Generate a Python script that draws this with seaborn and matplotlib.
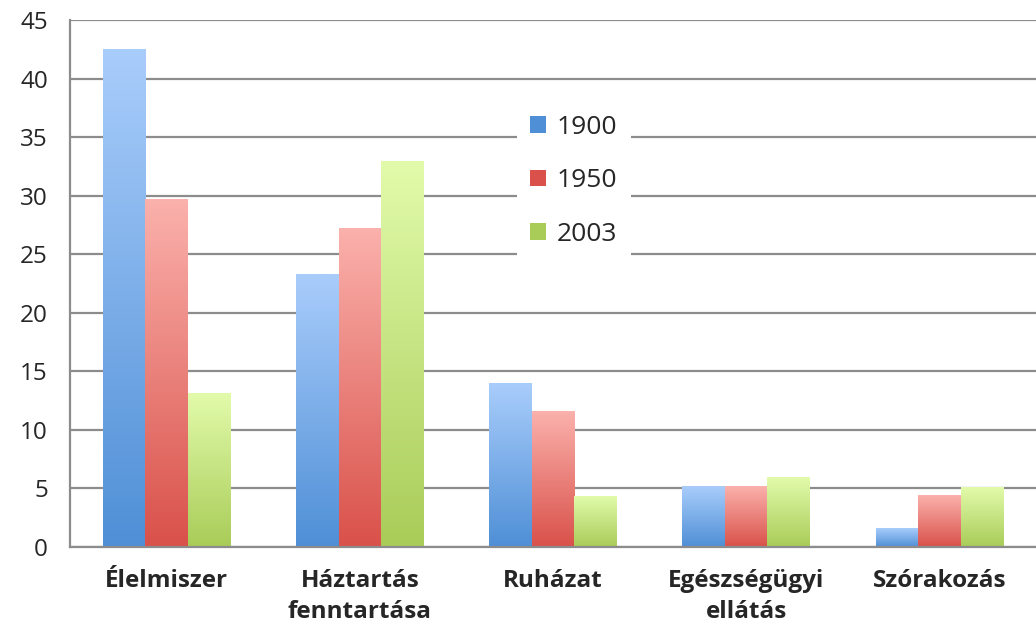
"""
Household spending shares by category, 1900 / 1950 / 2003.
"""

import numpy as np
import pandas as pd
import matplotlib
matplotlib.use("Agg")
import matplotlib.pyplot as plt
import matplotlib.colors as mcolors
from matplotlib.patches import Patch
import seaborn as sns

categories = ["Élelmiszer", "Háztartás\nfenntartása", "Ruházat",
              "Egészségügyi\nellátás", "Szórakozás"]
years = ["1900", "1950", "2003"]
values_1900 = [42.5, 23.3, 14.0, 5.2, 1.6]
values_1950 = [29.7, 27.2, 11.6, 5.2, 4.4]
values_2003 = [13.1, 32.9, 4.3, 5.9, 5.1]

# (top colour, bottom colour) for the gradient fill
gradients = {
    "1900": ("#a9cdfb", "#4f8fd6"),
    "1950": ("#fbb1ac", "#d9514a"),
    "2003": ("#e2fbab", "#a9cc58"),
}

df = pd.DataFrame({
    "category": categories * 3,
    "year": np.repeat(years, len(categories)),
    "value": values_1900 + values_1950 + values_2003,
})

sns.set_style("white")
plt.rcParams["font.family"] = ["Open Sans", "DejaVu Sans"]

fig = plt.figure(figsize=(10.36, 6.25), dpi=100)
ax = fig.add_axes([0.0676, 0.1248, 0.9324, 0.8432])

palette = {y: gradients[y][1] for y in years}
sns.barplot(data=df, x="category", y="value", hue="year", hue_order=years,
            palette=palette, width=0.66, gap=0, saturation=1,
            legend=False, ax=ax)

# replace flat bars with vertical gradients
for container, year in zip(ax.containers, years):
    top, bottom = gradients[year]
    cmap = mcolors.LinearSegmentedColormap.from_list(year, [bottom, top])
    grad = np.linspace(0, 1, 256).reshape(-1, 1)
    for bar in container:
        x, w, h = bar.get_x(), bar.get_width(), bar.get_height()
        ax.imshow(grad, cmap=cmap, origin="lower", aspect="auto",
                  extent=[x, x + w, 0, h], zorder=3, interpolation="bilinear")
        bar.set_visible(False)

ax.set_xlim(-0.5, len(categories) - 0.5)
ax.set_ylim(0, 45)
ax.set_yticks(range(0, 46, 5))
ax.set_xlabel("")
ax.set_ylabel("")

grid_color = "#8c8c8c"
ax.yaxis.grid(True, color=grid_color, linewidth=1.6, zorder=0)
ax.set_axisbelow(True)
for side in ["top", "right"]:
    ax.spines[side].set_visible(False)
for side in ["left", "bottom"]:
    ax.spines[side].set_color(grid_color)
    ax.spines[side].set_linewidth(1.6)
    ax.spines[side].set_zorder(4)

ax.set_xticks(range(len(categories)))
ax.set_xticklabels(categories, fontsize=17.5, fontweight="bold",
                   linespacing=1.4)
ax.tick_params(axis="x", length=0, pad=16)
ax.set_xticks(np.arange(-0.5, len(categories), 1), minor=True)
ax.tick_params(axis="x", which="minor", length=8, width=1.6,
               color=grid_color, direction="out")
ax.tick_params(axis="y", length=8, width=1.6, color=grid_color,
               labelsize=17.5, pad=8)
for lbl in ax.get_yticklabels():
    lbl.set_fontweight("medium")

handles = [Patch(facecolor=gradients[y][1], edgecolor="none", label=y)
           for y in years]
leg = ax.legend(handles=handles, loc="upper left",
                bbox_to_anchor=(0.463, 0.845), frameon=True, fontsize=19,
                labelspacing=1.08, handlelength=0.6, handleheight=0.6,
                handletextpad=0.4, borderpad=0.5, borderaxespad=0)
leg.get_frame().set_facecolor("white")
leg.get_frame().set_edgecolor("none")
leg.get_frame().set_alpha(1)
leg.set_zorder(5)

fig.savefig("out.png", dpi=100)
